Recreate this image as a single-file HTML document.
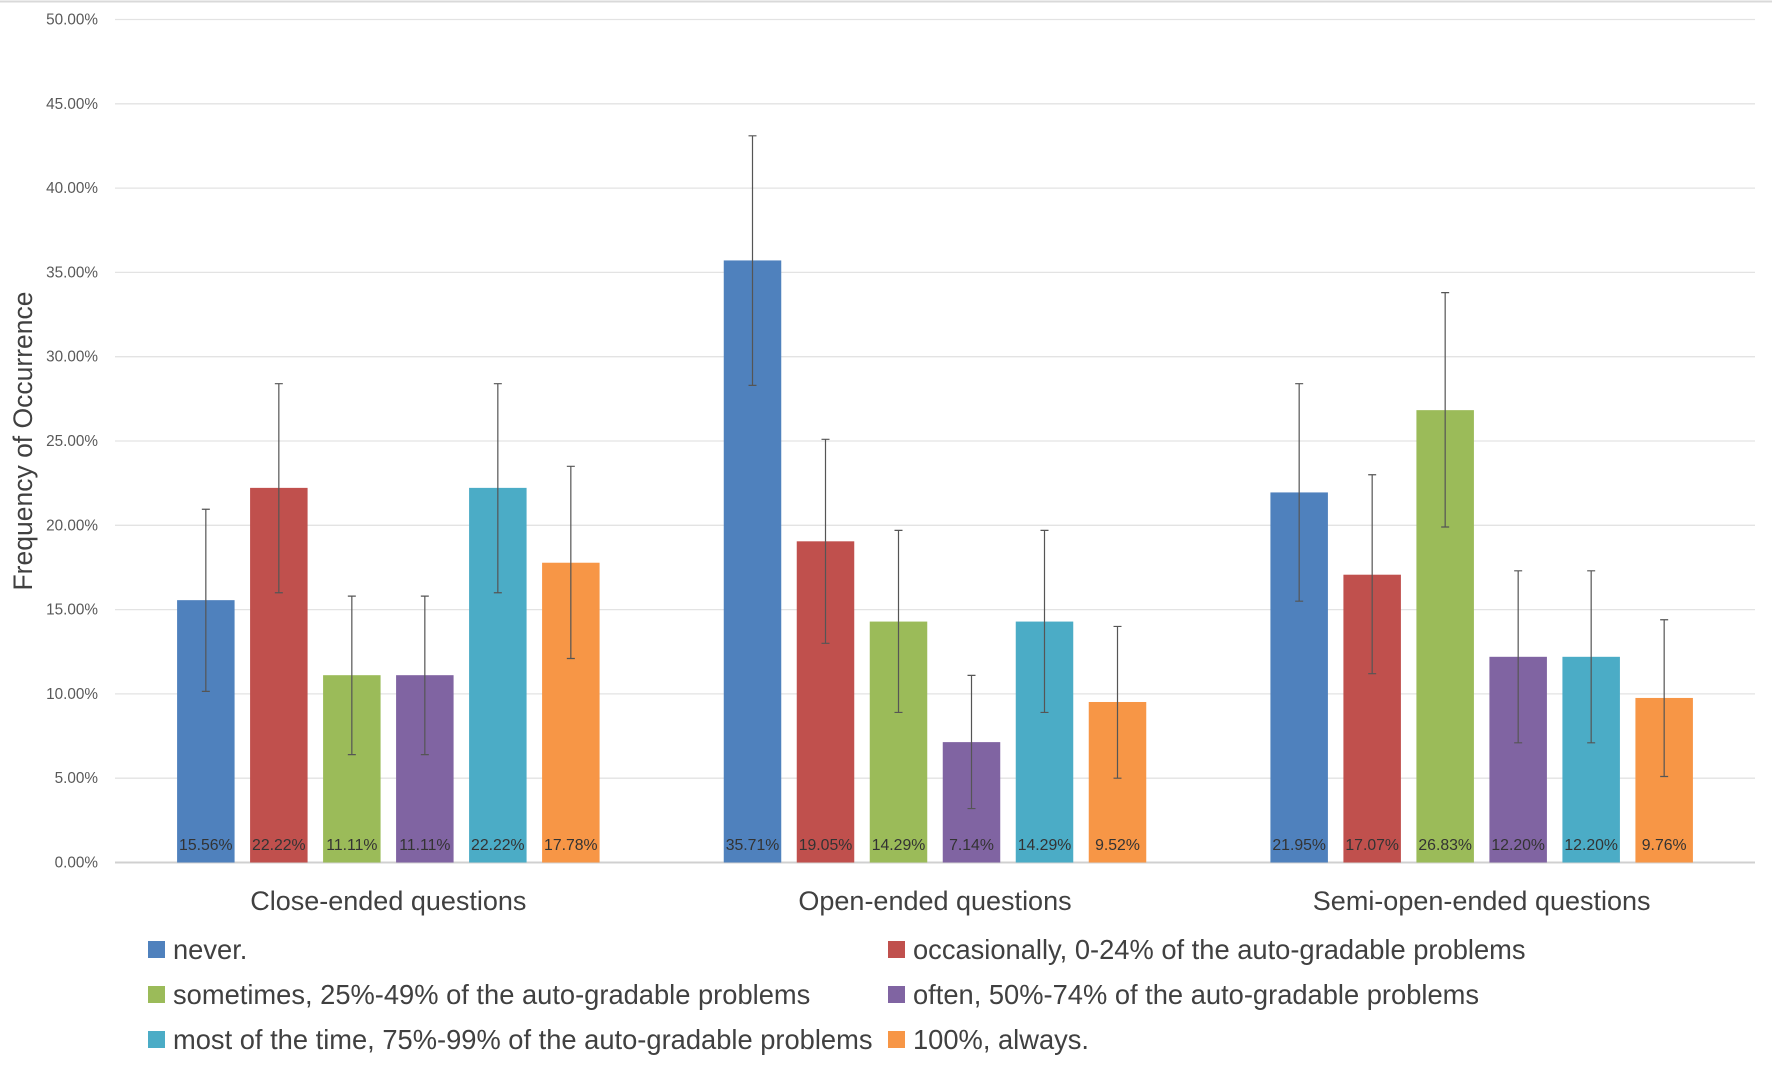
<!DOCTYPE html>
<html><head><meta charset="utf-8"><style>
html,body{margin:0;padding:0;background:#fff;}
svg{display:block;font-family:"Liberation Sans",sans-serif;}
</style></head><body>
<svg id="chart" width="1772" height="1065" viewBox="0 0 1772 1065" xmlns="http://www.w3.org/2000/svg">
<line x1="0" y1="1.5" x2="1772" y2="1.5" stroke="#d9d9d9" stroke-width="2"/>
<g id="grid"></g>
<g id="yticks"></g>
<g id="bars"></g>
<g id="cats"></g>
<text x="32" y="441" transform="rotate(-90 32 441)" text-anchor="middle" font-size="26.5" fill="#404040">Frequency of Occurrence</text>
<g id="legend"></g>
</svg>
<script>
const categories = ["Close-ended questions","Open-ended questions","Semi-open-ended questions"];
const seriesNames = ["never.","occasionally, 0-24% of the auto-gradable problems","sometimes, 25%-49% of the auto-gradable problems","often, 50%-74%  of the auto-gradable problems","most of the time, 75%-99% of the auto-gradable problems","100%, always."];
const never = [15.56,35.71,21.95];
const occasionally = [22.22,19.05,17.07];
const sometimes = [11.11,14.29,26.83];
const often = [11.11,7.14,12.20];
const mostTime = [22.22,14.29,12.20];
const always = [17.78,9.52,9.76];
const errUpper = [[20.95,43.1,28.4],[28.4,25.1,23.0],[15.8,19.7,33.8],[15.8,11.1,17.3],[28.4,19.7,17.3],[23.5,14.0,14.4]];
const errLower = [[10.15,28.3,15.5],[16.0,13.0,11.2],[6.4,8.9,19.9],[6.4,3.2,7.1],[16.0,8.9,7.1],[12.1,5.0,5.1]];
const yTicks = [0,5,10,15,20,25,30,35,40,45,50];
const series = [never,occasionally,sometimes,often,mostTime,always];
const colors = ["#4f81bd","#c0504d","#9bbb59","#8064a2","#4bacc6","#f79646"];

const NS="http://www.w3.org/2000/svg";
const plotL=115, plotR=1755, y0=862.5, y50=19.5;
const yS=v=>y0-(v/50)*(y0-y50);
const groupW=(plotR-plotL)/categories.length;
const pitch=73, barW=57.5;
const barX=(g,s)=>plotL+groupW*(g+0.5)+(s-2.5)*pitch-barW/2;
function mk(tag,attrs,parent){const e=document.createElementNS(NS,tag);for(const k in attrs)e.setAttribute(k,attrs[k]);parent.appendChild(e);return e;}
const grid=document.getElementById('grid'), yt=document.getElementById('yticks');
yTicks.forEach(t=>{
  const l=mk('line',{x1:plotL,x2:plotR,y1:yS(t),y2:yS(t),stroke:t===0?'#d0d0d0':'#e3e3e3','stroke-width':t===0?2:1.3},grid);
  
  
  const tx=mk('text',{x:98,y:yS(t)+5,'text-anchor':'end','font-size':15.3,fill:'#595959'},yt);
  tx.textContent=t.toFixed(2)+'%';
  
  
});
const bars=document.getElementById('bars');
series.forEach((vals,s)=>{vals.forEach((v,g)=>{
  const x=barX(g,s);
  const r=mk('rect',{x:x,y:yS(v),width:barW,height:y0-yS(v),fill:colors[s]},bars);
  
  
  const cx=x+barW/2;
  const e=mk('path',{d:`M${cx},${yS(errUpper[s][g])}V${yS(errLower[s][g])}M${cx-4},${yS(errUpper[s][g])}H${cx+4}M${cx-4},${yS(errLower[s][g])}H${cx+4}`,stroke:'#555',fill:'none','stroke-width':1.2},bars);
  
  
  const t=mk('text',{x:cx,y:850,'text-anchor':'middle','font-size':15.8,fill:'#333'},bars);
  t.textContent=v.toFixed(2)+'%';
  
  
});});
const cats=document.getElementById('cats');
categories.forEach((c,g)=>{
  const t=mk('text',{x:plotL+groupW*(g+0.5),y:910,'text-anchor':'middle','font-size':27,fill:'#404040'},cats);
  t.textContent=c;
  
  
});
const leg=document.getElementById('legend');
seriesNames.forEach((n,i)=>{
  const col=i%2, row=Math.floor(i/2);
  const x=col?888:148, y=950+row*45;
  const g=mk('g',{},leg);
  
  
  mk('rect',{x:x,y:y-9,width:17,height:17,fill:colors[i]},g);
  const t=mk('text',{x:x+25,y:y+9,'font-size':27.3,fill:'#404040'},g);
  t.textContent=n;
});
</script>
</body></html>
